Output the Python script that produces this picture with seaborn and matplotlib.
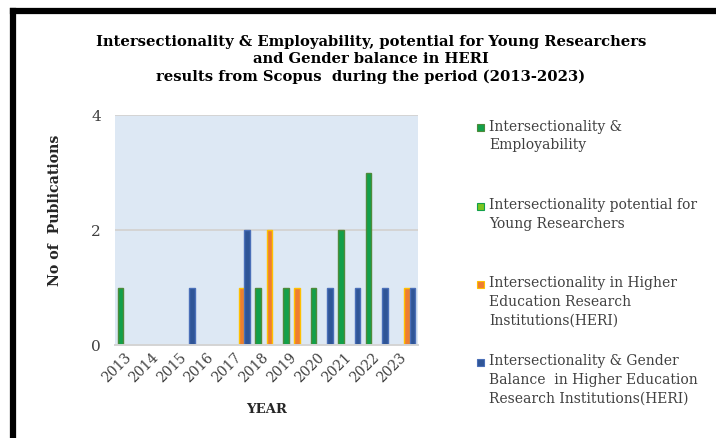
import matplotlib
matplotlib.use("Agg")
import matplotlib.pyplot as plt
from matplotlib.patches import Rectangle
from matplotlib.lines import Line2D
from matplotlib.transforms import ScaledTranslation
import seaborn as sns
import pandas as pd

years = ["2013", "2014", "2015", "2016", "2017", "2018",
         "2019", "2020", "2021", "2022", "2023"]
series = [
    "Intersectionality &\nEmployability",
    "Intersectionality potential for\nYoung Researchers",
    "Intersectionality in Higher\nEducation Research\nInstitutions(HERI)",
    "Intersectionality & Gender\nBalance  in Higher Education\nResearch Institutions(HERI)",
]
employability = [1, 0, 0, 0, 0, 1, 1, 1, 2, 3, 0]
young_researchers = [0, 0, 0, 0, 0, 0, 0, 0, 0, 0, 0]
heri = [0, 0, 0, 0, 1, 2, 1, 0, 0, 0, 1]
gender_balance = [0, 0, 1, 0, 2, 0, 0, 1, 1, 1, 1]

fills = ["#12a04a", "#7cc520", "#ed7d31", "#2f5597"]
edges = ["#4e8a3a", "#12a04a", "#ffc000", "#4a6fb8"]

rows = []
for name, vals in zip(series, [employability, young_researchers, heri, gender_balance]):
    for y, v in zip(years, vals):
        rows.append({"year": y, "series": name, "count": v})
df = pd.DataFrame(rows)

sns.set_style("white")
plt.rcParams["font.family"] = ["DejaVu Serif"]

W, H = 716, 439
fig = plt.figure(figsize=(W / 100, H / 100), dpi=100)
ax = fig.add_axes([115 / W, 1 - 346 / H, 303 / W, 230 / H])
ax.set_facecolor("#dde8f4")

sns.barplot(data=df, x="year", y="count", hue="series", hue_order=series,
            palette=fills, saturation=1, width=0.8, legend=False, ax=ax)

for cont, ec in zip(ax.containers, edges):
    for bar in cont:
        if bar.get_height() > 0:
            bar.set_edgecolor(ec)
            bar.set_linewidth(1.0)
        else:
            bar.set_linewidth(0)

ax.set_ylim(0, 4)
ax.set_yticks([0, 2, 4])
ax.set_xlim(-0.5, len(years) - 0.5)
for yv in (2, 4):
    ax.axhline(yv, color="#d4d4d4", lw=1.4, zorder=0.5)
for s in ("top", "right", "left"):
    ax.spines[s].set_visible(False)
ax.spines["bottom"].set_color("#d4d4d4")
ax.spines["bottom"].set_linewidth(1.4)

ax.tick_params(axis="both", length=0, labelcolor="#404040")
ax.tick_params(axis="y", pad=10, labelsize=11)
ax.tick_params(axis="x", pad=3, labelsize=10)
shift = ScaledTranslation(-5 / 100, 0, fig.dpi_scale_trans)
for lab in ax.get_xticklabels():
    lab.set_rotation(45)
    lab.set_ha("right")
    lab.set_rotation_mode("anchor")
    lab.set_transform(lab.get_transform() + shift)

ax.set_xlabel("YEAR", fontsize=9.5, fontweight="bold")
ax.xaxis.set_label_coords((267 - 115) / 303, -(403 - 346) / 230)
ax.set_ylabel("No of  Publications", fontsize=10.2, fontweight="bold")
ax.yaxis.set_label_coords((62 - 115) / 303, (346 - 210) / 230)

fig.text(371 / W, 1 - 35 / H,
         "Intersectionality & Employability, potential for Young Researchers\n"
         "and Gender balance in HERI\n"
         "results from Scopus  during the period (2013-2023)",
         ha="center", va="top", fontsize=10.6, fontweight="bold",
         linespacing=1.3, color="black")

# legend drawn as swatches beside wrapped labels
label_y = [128, 207, 285, 363]
for name, fc, ec, yy in zip(series, fills, edges, label_y):
    fig.patches.append(Rectangle((477 / W, 1 - (yy + 3.5) / H), 7 / W, 7 / H,
                                 transform=fig.transFigure, facecolor=fc,
                                 edgecolor=ec, lw=0.8, figure=fig))
    fig.text(489 / W, 1 - (yy - 8.5) / H, name, ha="left", va="top",
             fontsize=10, color="#404040", linespacing=1.4)

# frame edges on the left and top of the canvas
fig.add_artist(Line2D([13 / W, 13 / W], [0, 1 - 12 / H], color="black", lw=4.5,
                      solid_capstyle="projecting", transform=fig.transFigure))
fig.add_artist(Line2D([13 / W, 1], [1 - 12 / H, 1 - 12 / H], color="black", lw=4.5,
                      solid_capstyle="projecting", transform=fig.transFigure))

fig.savefig("out.png", dpi=100)
